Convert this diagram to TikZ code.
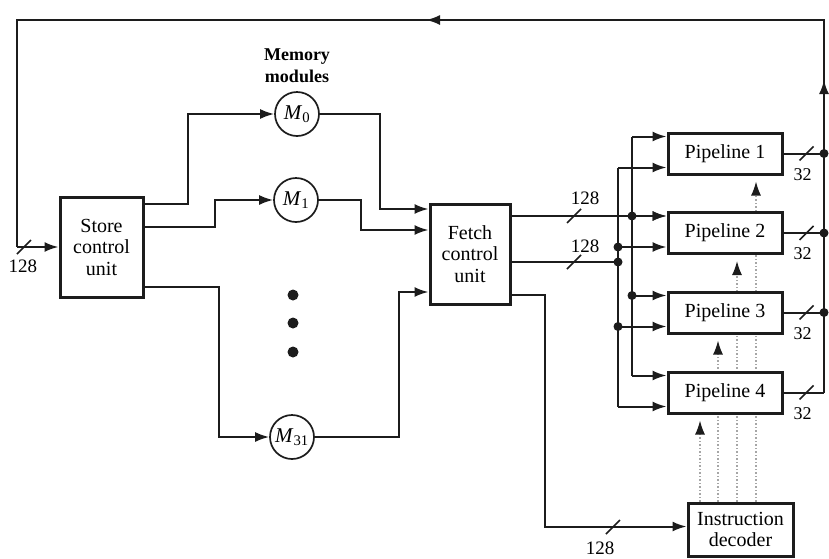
\documentclass[tikz,border=0pt]{standalone}
\usepackage{fontspec}
\setmainfont{Liberation Serif}
\usetikzlibrary{arrows.meta,backgrounds}
\definecolor{ink}{HTML}{1C1C1C}
\begin{document}
\begin{tikzpicture}[x=1pt,y=-1pt,
  line/.style={draw=ink, line width=2pt},
  arr/.style={draw=ink, line width=2pt, -{Latex[length=14pt,width=10pt]}},
  box/.style={draw=ink, line width=3pt, fill=white, inner sep=0pt, align=center, font=\fontsize{20}{21.5}\selectfont},
  mem/.style={circle, draw=ink, line width=1.7pt, fill=white, minimum size=44pt, inner sep=0pt, font=\fontsize{21}{21}\selectfont},
  jdot/.style={circle, fill=ink, minimum size=9pt, inner sep=0pt},
  bigdot/.style={circle, fill=ink, minimum size=11pt, inner sep=0pt},
  ctrl/.style={draw=gray!70, line width=1.5pt, dotted, shorten >=6pt, -{Latex[color=ink,length=14pt,width=10pt]}},
  lbl/.style={inner sep=0pt, font=\fontsize{19}{20}\selectfont},
  busmark/.pic={\draw[draw=ink, line width=1.6pt] (-7,7) -- (7,-7);}
]
\useasboundingbox (0,0) rectangle (829,558);

% boxes
\node[box, minimum width=83pt, minimum height=100pt] (store) at (101.5,247) {Store\\control\\unit};
\node[box, minimum width=80pt, minimum height=100pt] (fetch) at (470,254) {Fetch\\control\\unit};
\node[box, minimum width=114pt, minimum height=41pt] (p1) at (725,153.5) {Pipeline 1};
\node[box, minimum width=114pt, minimum height=41pt] (p2) at (725,233) {Pipeline 2};
\node[box, minimum width=114pt, minimum height=41pt] (p3) at (725,312.5) {Pipeline 3};
\node[box, minimum width=114pt, minimum height=41pt] (p4) at (725,392.5) {Pipeline 4};
\node[box, minimum width=105pt, minimum height=53pt] (dec) at (740.5,529.5) {Instruction\\decoder};

% memory modules
\node[inner sep=0pt, align=center, font=\bfseries\fontsize{18}{22}\selectfont] (memlbl) at (297,66) {Memory\\modules};
\node[mem] (m0) at (297,114) {\textit{M}\textsubscript{0}};
\node[mem] (m1) at (296,200) {\textit{M}\textsubscript{1}};
\node[mem] (m31) at (292,437) {\textit{M}\textsubscript{31}};
\node[bigdot] (e1) at (293,295) {};
\node[bigdot] (e2) at (293,323) {};
\node[bigdot] (e3) at (293,352) {};

% store -> memories
\draw[arr] ([yshift=43pt]store.east) -- ++(43,0) |- (m0);
\draw[arr] ([yshift=20pt]store.east) -- ++(70,0) |- (m1);
\draw[arr] ([yshift=-40pt]store.east) -- ++(74,0) |- (m31);

% memories -> fetch
\draw[arr] (m0.east) -- ++(60,0) |- ([yshift=45pt]fetch.west);
\draw[arr] (m1.east) -- ++(42,0) |- ([yshift=24pt]fetch.west);
\draw[arr] (m31.east) -- ++(84,0) |- ([yshift=-38pt]fetch.west);

% pipeline input coordinates
\foreach \k in {1,2,3,4} {
  \coordinate (pu\k) at ([yshift=17pt]p\k.west);
  \coordinate (pl\k) at ([yshift=-14pt]p\k.west);
}
\coordinate (xa) at (632,0);
\coordinate (xb) at (618,0);
\coordinate (xr) at (824,0);
\coordinate (f2) at ([yshift=-8pt]fetch.east);

% fetch outputs
\draw[arr] ([yshift=38pt]fetch.east) -- (pu2);
\draw[line] (f2) -- (xb |- f2);
\draw[arr] ([yshift=-41pt]fetch.east) -- ++(33,0) |- ([yshift=3pt]dec.west);
\pic at (574,216) {busmark};
\pic at (574,262) {busmark};
\pic at (613,527) {busmark};
\node[lbl] (l1) at (585,198) {128};
\node[lbl] (l2) at (585,246) {128};
\node[lbl] (l3) at (600,548) {128};

% buses to pipelines
\draw[line] (xa |- pu1) -- (xa |- pu4);
\draw[line] (xb |- pl1) -- (xb |- pl4);
\foreach \k in {1,2,3,4} {
  \draw[arr] (xa |- pu\k) -- (pu\k);
  \draw[arr] (xb |- pl\k) -- (pl\k);
}
\node[jdot] (ja2) at (xa |- pu2) {};
\node[jdot] (ja3) at (xa |- pu3) {};
\node[jdot] (jb2) at (xb |- pl2) {};
\node[jdot] (jbf) at (xb |- f2) {};
\node[jdot] (jb3) at (xb |- pl3) {};

% pipeline outputs
\foreach \k in {1,2,3,4} {
  \draw[line] (p\k.east) -- (xr |- p\k.east);
  \pic at ([xshift=23pt]p\k.east) {busmark};
  \node[lbl, font=\fontsize{18}{19}\selectfont] at ([xshift=19pt,yshift=-21pt]p\k.east) {32};
}
\node[jdot] (jr1) at (xr |- p1.east) {};
\node[jdot] (jr2) at (xr |- p2.east) {};
\node[jdot] (jr3) at (xr |- p3.east) {};

% feedback loop
\coordinate (tr) at (824,20);
\coordinate (tl) at (17,20);
\coordinate (bl) at (tl |- store.west);
\draw[line] (xr |- p4.east) -- (tr) -- (tl) -- (bl);
\draw[arr] (bl) -- (store.west);
\draw[arr] (xr |- p4.east) -- (824,80);
\draw[arr] (tr) -- (426,20);
\pic at (24,247) {busmark};
\node[lbl] (l0) at (23,266) {128};

% control lines from decoder
\begin{scope}[on background layer]
\draw[ctrl] ([xshift=-40.5pt]dec.north) -- ([xshift=-40.5pt]dec.north |- p4.south);
\draw[ctrl] ([xshift=-22.5pt]dec.north) -- ([xshift=-22.5pt]dec.north |- p3.south);
\draw[ctrl] ([xshift=-3.5pt]dec.north) -- ([xshift=-3.5pt]dec.north |- p2.south);
\draw[ctrl] ([xshift=15.5pt]dec.north) -- ([xshift=15.5pt]dec.north |- p1.south);
\end{scope}
\end{tikzpicture}
\end{document}
